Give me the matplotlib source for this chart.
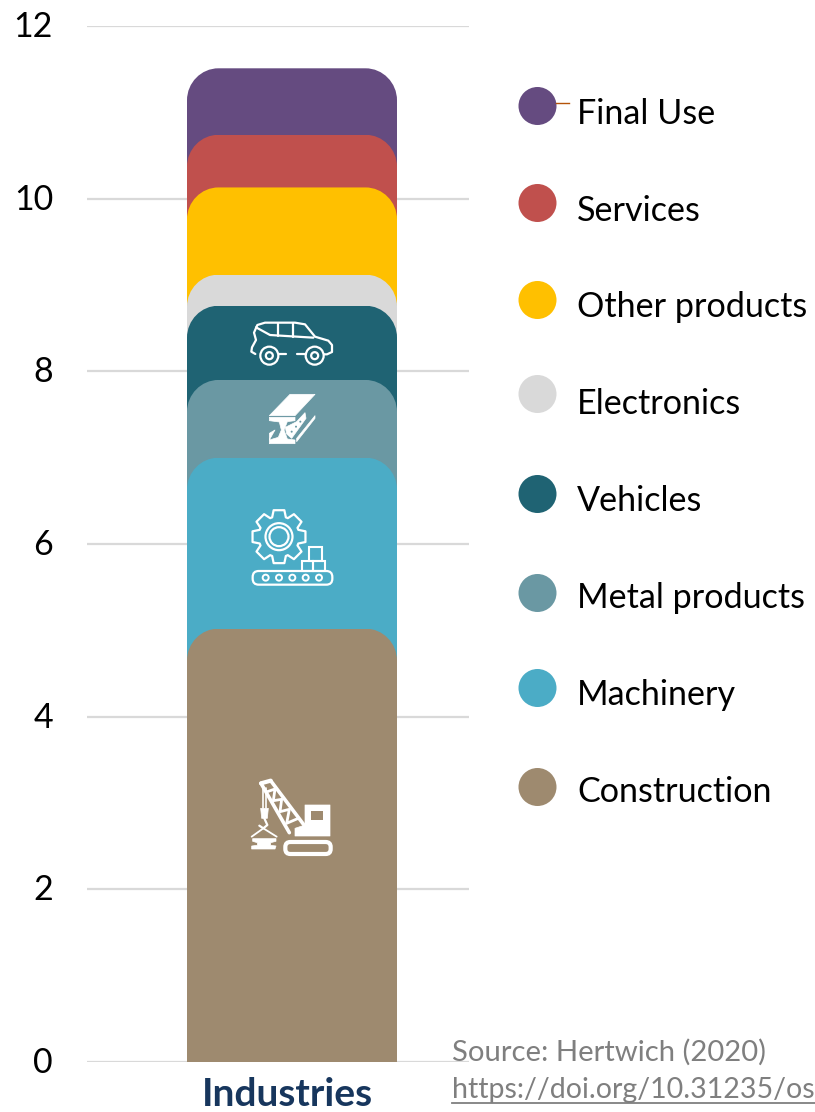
import numpy as np
import matplotlib
matplotlib.use("Agg")
import matplotlib.pyplot as plt
from matplotlib.path import Path
from matplotlib.patches import PathPatch, Polygon, Circle, Rectangle, FancyBboxPatch
from matplotlib.transforms import ScaledTranslation

plt.rcParams['font.family'] = ['Lato', 'DejaVu Sans']

categories = ["Construction", "Machinery", "Metal products", "Vehicles",
              "Electronics", "Other products", "Services", "Final Use"]
cumulative_top = [5.02, 7.00, 7.90, 8.76, 9.12, 10.13, 10.74, 11.51]
colors = ["#9E8A6F", "#4BACC6", "#6A98A3", "#1F6373",
          "#D9D9D9", "#FFC000", "#C0504D", "#654B80"]
legend_circle_y = [787, 688, 593, 494, 394, 300, 203, 106]
legend_text_y = [792, 695, 598, 501, 404, 307, 211, 114]
yticks = [0, 2, 4, 6, 8, 10, 12]
column_label = "Industries"

W, H = 815, 1112
fig = plt.figure(figsize=(W / 100, H / 100), dpi=100, facecolor="white")
ax = fig.add_axes([87 / W, 1 - 1062 / H, 382 / W, (1062 - 26) / H])
ax.set_ylim(0, 12)
ax.set_xlim(-205 / 382, 177 / 382)
for s in ax.spines.values():
    s.set_visible(False)
ax.set_yticks(yticks)
ax.tick_params(axis='y', length=0, labelsize=24.5, pad=24.5, labelcolor="black")
for lab in ax.get_yticklabels():
    lab.set_transform(lab.get_transform() + ScaledTranslation(0, 2 / 100, fig.dpi_scale_trans))
ax.grid(axis='y', color="#D9D9D9", lw=1.6, zorder=0)
ax.set_axisbelow(True)
ax.set_xticks([0], [column_label], fontsize=28, fontweight='bold', color="#17365D")
ax.tick_params(axis='x', length=0, pad=11)
for lab in ax.get_xticklabels():
    lab.set_transform(lab.get_transform() + ScaledTranslation(-5 / 100, 0, fig.dpi_scale_trans))

bar_w = 210 / 382
rx = bar_w * 0.15
ry = 32 / 86.33
K = 0.45


def rounded_top(top):
    x0, x1 = -bar_w / 2, bar_w / 2
    v = [(x0, -1), (x0, top - ry),
         (x0, top - ry * K), (x0 + rx * K, top), (x0 + rx, top),
         (x1 - rx, top),
         (x1 - rx * K, top), (x1, top - ry * K), (x1, top - ry),
         (x1, -1), (x0, -1)]
    c = [Path.MOVETO, Path.LINETO,
         Path.CURVE4, Path.CURVE4, Path.CURVE4,
         Path.LINETO,
         Path.CURVE4, Path.CURVE4, Path.CURVE4,
         Path.LINETO, Path.CLOSEPOLY]
    return Path(v, c)


for i in range(len(categories) - 1, -1, -1):
    bar = ax.bar(0, cumulative_top[i], width=bar_w, color=colors[i], zorder=2 + (len(categories) - i))[0]
    bar.set_clip_path(rounded_top(cumulative_top[i]), ax.transData)

# overlay in pixel coordinates for legend, notes and pictograms
ov = fig.add_axes([0, 0, 1, 1], facecolor="none")
ov.set_xlim(0, W)
ov.set_ylim(H, 0)
ov.axis("off")

for name, col, cy, ty in zip(categories, colors, legend_circle_y, legend_text_y):
    ov.add_patch(Circle((537.5, cy), 19, fc=col, ec="none"))
    ov.text(577, ty, name, fontsize=24.6, va="center", ha="left", color="black")
ov.plot([556, 569], [102.5, 102.5], color="#B45309", lw=1)

ov.text(452, 1052, "Source: Hertwich (2020)", fontsize=21.1, color="#7F7F7F", va="center", ha="left")
ov.text(452, 1090, "https://doi.org/10.31235/os", fontsize=20.5, color="#7F7F7F", va="center", ha="left")
ov.plot([452, 815], [1103, 1103], color="#7F7F7F", lw=1.3)

WHITE = "white"


def zp(pts, ox=180, oy=290):
    return [(ox + x / 3, oy + y / 3) for x, y in pts]


def poly(pts, fill=False, lw=1.6, ec=WHITE, fc=WHITE, closed=True, **kw):
    ov.add_patch(Polygon(pts, closed=closed, fill=fill, fc=fc if fill else "none",
                         ec=ec, lw=lw, zorder=20, joinstyle="round", **kw))


def circ(c, r, lw=1.6, fill=False, fc=WHITE):
    ov.add_patch(Circle(c, r, fill=fill, fc=fc if fill else "none", ec=WHITE, lw=lw, zorder=20))


def line(pts, lw=1.6):
    a = np.array(pts)
    ov.plot(a[:, 0], a[:, 1], color=WHITE, lw=lw, zorder=20, solid_capstyle="round", solid_joinstyle="round")


# car
body = [(226, 192), (214, 185), (216, 172), (228, 150), (222, 128), (232, 105), (255, 98),
        (345, 98), (375, 103), (405, 140), (445, 152), (456, 165), (456, 186), (441, 193), (432, 193)]
line(zp(body))
line(zp([(296, 193), (318, 193)]))
line(zp([(350, 193), (378, 193)]))
line(zp([(228, 112), (270, 135), (400, 143)]))
line(zp([(293, 100), (293, 138)]))
line(zp([(340, 100), (340, 140)]))
for cx in (268, 404):
    circ(zp([(cx, 197)])[0], 9)
    circ(zp([(cx, 197)])[0], 3.5)

# beam
poly(zp([(268, 377), (345, 377), (405, 313), (330, 313)]), fill=True, lw=0.5)
poly(zp([(268, 382), (345, 382), (345, 392), (322, 395), (312, 420), (322, 447), (345, 450), (345, 461),
         (268, 461), (268, 450), (295, 442), (304, 420), (298, 396), (268, 392)]), fill=True, lw=0.5)
poly(zp([(350, 395), (375, 368), (378, 385), (335, 445), (320, 432), (316, 412)]), fill=True, lw=0.5)
poly(zp([(350, 455), (405, 385), (405, 377), (350, 445)]), fill=True, lw=0.5)
poly(zp([(268, 450), (268, 430), (285, 420)]), fill=True, lw=0.5)
for zx, zy in [(335, 425), (348, 410), (361, 395)]:
    circ(zp([(zx, zy)])[0], 1, lw=0, fill=True, fc="#6A98A3")

# gear on conveyor
gc = np.array(zp([(297, 740)])[0])
gear = []
for k in range(8):
    a = -np.pi / 2 + k * np.pi / 4
    for da, r in [(-0.34, 20.5), (-0.2, 27), (0.2, 27), (0.34, 20.5)]:
        gear.append((gc[0] + r * np.cos(a + da), gc[1] + r * np.sin(a + da)))
poly(gear)
circ(gc, 13.5)
circ(gc, 9.5)
(x0, y0), (x1, y1) = zp([(218, 843), (457, 884)])
ov.add_patch(FancyBboxPatch((x0, y0), x1 - x0, y1 - y0, boxstyle="round,pad=0,rounding_size=6",
                            fc="none", ec=WHITE, lw=1.6, zorder=20))
for zx in (257, 297, 337, 377, 417):
    circ(zp([(zx, 863)])[0], 3, lw=1.4)
for a, b in [((365, 812), (400, 843)), ((400, 812), (436, 843)), ((388, 772), (426, 812))]:
    (xa, ya), (xb, yb) = zp([a, b])
    ov.add_patch(Rectangle((xa, ya), xb - xa, yb - ya, fc="none", ec=WHITE, lw=1.5, zorder=20))


# crane
def zc(pts):
    return zp(pts, 230, 760)


line(zc([(93, 70), (122, 62)]), lw=3)
line(zc([(93, 70), (178, 218)]), lw=2.6)
line(zc([(122, 62), (222, 195)]), lw=2.6)
line(zc([(112, 95), (135, 87), (130, 122), (155, 118), (150, 155), (178, 148), (170, 190), (205, 175)]), lw=2)
poly(zc([(225, 135), (300, 135), (300, 228), (195, 228), (195, 205), (225, 195)]), fill=True, lw=0.5)
poly(zc([(243, 152), (280, 152), (280, 180), (243, 180)]), fill=True, lw=0, ec="none", fc="#9E8A6F")
ov.add_patch(FancyBboxPatch(zc([(166, 246)])[0], 136 / 3, 36 / 3, boxstyle="round,pad=0,rounding_size=5",
                            fc="none", ec=WHITE, lw=3, zorder=20))
line(zc([(100, 85), (100, 145)]), lw=1.2)
line(zc([(108, 85), (108, 145)]), lw=1.2)
poly(zc([(92, 145), (115, 145), (112, 175), (95, 175)]), fill=True, lw=0.5)
line(zc([(103, 175), (112, 195), (100, 205), (88, 197)]), lw=1.6)
line(zc([(65, 230), (100, 205), (140, 230)]), lw=1.3)
poly(zc([(68, 236), (138, 236), (138, 244), (122, 248), (122, 256), (138, 258), (135, 267), (65, 267),
         (65, 258), (82, 256), (82, 248), (68, 244)]), fill=True, lw=0.5)

fig.savefig("out.png", dpi=100)
